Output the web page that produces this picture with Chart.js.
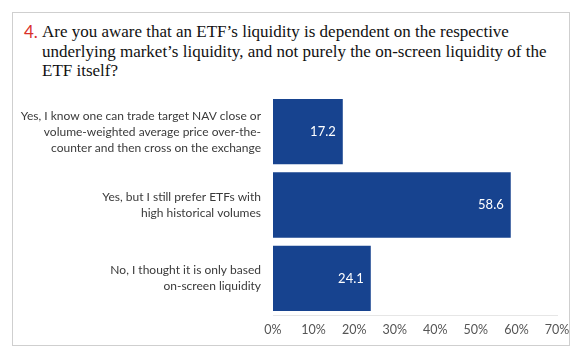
<!DOCTYPE html>
<html>
<head>
<meta charset="utf-8">
<script src="https://cdn.jsdelivr.net/npm/chart.js@4"></script>
<style>
  html, body { margin: 0; padding: 0; background: #fff; }
  #wrap { position: relative; width: 580px; height: 358px; }
  #frame { position: absolute; left: 12px; top: 12px; width: 556px; height: 332px; border: 1px solid #cfcfcf; z-index: 2; pointer-events: none; }
  #num { position: absolute; left: 24px; top: 22px; font-family: Lato, sans-serif; font-size: 17px; line-height: 19.5px; color: #d9312b; }
  #title { position: absolute; left: 42px; top: 22px; width: 510px; font-family: "Liberation Serif", serif; font-size: 17px; line-height: 19.5px; color: #111; }
  #chartBox { position: absolute; left: 0; top: 0; width: 580px; height: 358px; z-index: 1; }
</style>
</head>
<body>
<div id="wrap">
  <div id="num">4.</div>
  <div id="title">Are you aware that an ETF’s liquidity is dependent on the respective underlying market’s liquidity, and not purely the on-screen liquidity of the ETF itself?</div>
  <div id="chartBox"><canvas id="surveyChart"></canvas></div>
  <div id="frame"></div>
</div>
<script>
// Respostas e percentuais
const answers = [
    ['Yes, I know one can trade target NAV close or', 'volume-weighted average price over-the-', 'counter and then cross on the exchange'],
    ['Yes, but I still prefer ETFs with', 'high historical volumes'],
    ['No, I thought it is only based', 'on-screen liquidity']
];
const shares = [17.2, 58.6, 24.1];
const axisMax = 70;
const axisStep = 10;

// Rótulos de valor dentro das barras
const barLabels = {
    id: 'barLabels',
    afterDatasetsDraw(chart) {
        const ctx = chart.ctx;
        ctx.save();
        ctx.font = '13px Lato, sans-serif';
        ctx.fillStyle = '#ffffff';
        ctx.textAlign = 'right';
        ctx.textBaseline = 'middle';
        chart.getDatasetMeta(0).data.forEach(function(bar, i) {
            ctx.fillText(shares[i].toFixed(1), bar.x - 7, bar.y);
        });
        ctx.restore();
    }
};

const configSurvey = {
    type: 'bar',
    data: {
        labels: answers,
        datasets: [{
            data: shares,
            backgroundColor: '#17438f',
            borderWidth: 0,
            barPercentage: 0.89,
            categoryPercentage: 1
        }]
    },
    options: {
        indexAxis: 'y',
        responsive: false,
        animation: false,
        layout: { padding: { top: 95, right: 23, bottom: 0, left: 0 } },
        plugins: { legend: { display: false }, tooltip: { enabled: false } },
        scales: {
            x: {
                min: 0,
                max: axisMax,
                grid: { display: false, drawTicks: false },
                border: { display: true, color: '#e6e6e6' },
                ticks: {
                    stepSize: axisStep,
                    padding: 7,
                    color: '#555',
                    font: { family: 'Lato, sans-serif', size: 12.5 },
                    callback: function(v) { return v + '%'; }
                },
                afterFit: function(s) { s.height = 43; }
            },
            y: {
                grid: { display: false, drawTicks: false },
                border: { display: false },
                ticks: {
                    padding: 12,
                    color: '#3a3a3a',
                    font: { family: 'Lato, sans-serif', size: 12, lineHeight: 1.33 }
                },
                afterFit: function(s) { s.width = 273; }
            }
        }
    },
    plugins: [barLabels]
};

window.onload = function() {
    const canvas = document.getElementById('surveyChart');
    canvas.width = 580;
    canvas.height = 358;
    new Chart(canvas.getContext('2d'), configSurvey);
}
</script>
</body>
</html>
